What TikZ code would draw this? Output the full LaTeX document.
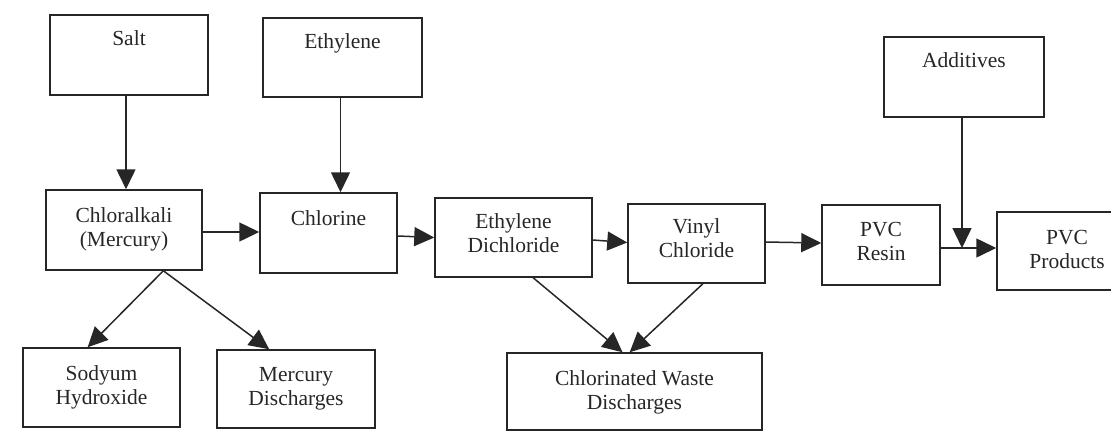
\documentclass[tikz,border=0pt]{standalone}
\usepackage{fontspec}
\setmainfont{Liberation Serif}
\usetikzlibrary{arrows.meta}
\begin{document}
\begin{tikzpicture}[x=1pt,y=-1pt,
  box/.style={draw=black!85, line width=1.5pt, rectangle, inner sep=0pt},
  txt/.style={anchor=north, inner sep=0pt, align=center, font=\fontsize{21.5}{24.5}\selectfont, text=black!85},
  flow/.style={draw=black!85, line width=1.5pt, -{Triangle[length=20pt,width=19pt]}, color=black!85}]
\useasboundingbox (0,0) rectangle (1111,432);
% boxes
\node[box, minimum width=158pt, minimum height=80pt] (salt) at (129,55) {};
\node[txt] (saltt) at (129,30) {Salt};
\node[box, minimum width=159pt, minimum height=79pt] (eth) at (342.5,57.5) {};
\node[txt] (etht) at (342.5,33) {Ethylene};
\node[box, minimum width=160pt, minimum height=80pt] (add) at (964,77) {};
\node[txt] (addt) at (964,52) {Additives};
\node[box, minimum width=156pt, minimum height=80pt] (chl) at (124,230) {};
\node[txt] (chlt) at (124,207) {Chloralkali\\(Mercury)};
\node[box, minimum width=137pt, minimum height=80pt] (clr) at (328.5,233) {};
\node[txt] (clrt) at (328.5,210) {Chlorine};
\node[box, minimum width=157pt, minimum height=79pt] (edc) at (513.5,237.5) {};
\node[txt] (edct) at (513.5,213) {Ethylene\\Dichloride};
\node[box, minimum width=137pt, minimum height=79pt] (vc) at (696.5,243.5) {};
\node[txt] (vct) at (696.5,218) {Vinyl\\Chloride};
\node[box, minimum width=118pt, minimum height=80pt] (res) at (881,245) {};
\node[txt] (rest) at (881,222) {PVC\\Resin};
\node[box, minimum width=140pt, minimum height=78pt] (prod) at (1067,251) {};
\node[txt] (prodt) at (1067,230) {PVC\\Products};
\node[box, minimum width=157pt, minimum height=79pt] (sod) at (101.5,387.5) {};
\node[txt] (sodt) at (101.5,365) {Sodyum\\Hydroxide};
\node[box, minimum width=158pt, minimum height=78pt] (merc) at (296,389) {};
\node[txt] (merct) at (296,367) {Mercury\\Discharges};
\node[box, minimum width=255pt, minimum height=77pt] (waste) at (634.5,391.5) {};
\node[txt] (wastet) at (634.5,370) {Chlorinated Waste\\Discharges};
% connectors
\draw[flow] ([xshift=-3pt]salt.south) -- ([xshift=-3pt]salt.south |- chl.north);
\draw[flow] ([xshift=-2pt]eth.south) -- ([xshift=-2pt]eth.south |- clr.north);
\draw[flow] ([xshift=-2pt]add.south) -- ([xshift=-2pt]add.south |- 0,248);
\draw[flow] ([yshift=-2pt]chl.east) -- ([yshift=-2pt]chl.east -| clr.west);
\draw[flow] ([yshift=-3pt]clr.east) -- (edc.west);
\draw[flow] ([yshift=-2.5pt]edc.east) -- ([yshift=1pt]vc.west);
\draw[flow] ([yshift=1.5pt]vc.east) -- ([yshift=2pt]res.west);
\draw[flow] ([yshift=-3pt]res.east) -- ([yshift=-3pt]res.east -| prod.west);
\draw[flow] (chl.-46) -- (sod.109);
\draw[flow] (chl.-46) -- (merc.124);
\draw[flow] (edc.-64) -- (waste.107);
\draw[flow] (vc.-81) -- (waste.97);
\end{tikzpicture}
\end{document}
